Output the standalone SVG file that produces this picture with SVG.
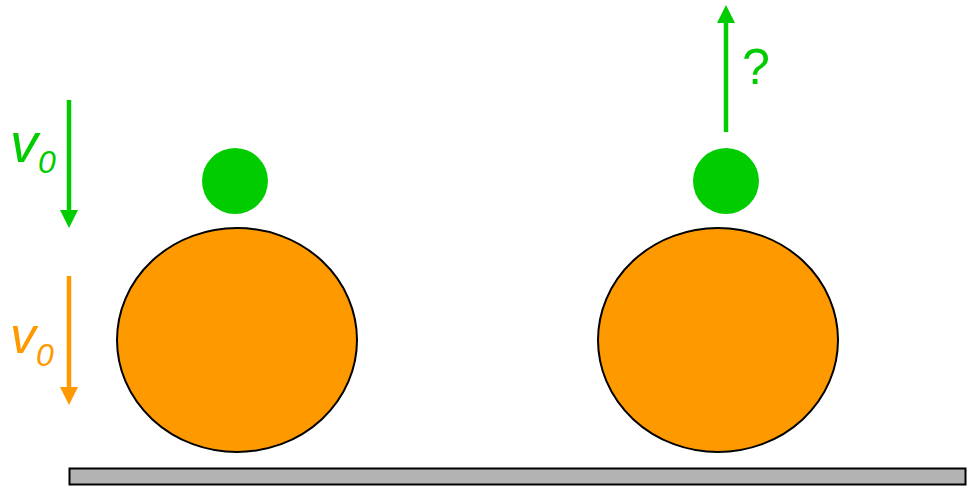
<svg xmlns="http://www.w3.org/2000/svg" width="973" height="486" viewBox="0 0 973 486">
<style>
.ball{fill:#FF9900;stroke:#000;stroke-width:2}
.small{fill:#00CC00}
.g{stroke:#00CC00;stroke-width:4.5;fill:none}
.o{stroke:#FF9900;stroke-width:4.5;fill:none}
.hg{fill:#00CC00}
.ho{fill:#FF9900}
.lbl{font-family:"Liberation Sans",Arial,sans-serif}
</style>
<rect id="ground" x="69.5" y="468.5" width="896" height="16" fill="#B3B3B3" stroke="#000" stroke-width="2"/>
<g id="left-big"><ellipse class="ball" cx="237" cy="340" rx="120" ry="112"/></g>
<g id="left-small"><circle class="small" cx="235" cy="181" r="33"/></g>
<g id="right-big"><ellipse class="ball" cx="718" cy="340" rx="120" ry="112"/></g>
<g id="right-small"><circle class="small" cx="726" cy="181" r="33"/></g>
<g id="connectors">
<line class="g" x1="69" y1="100" x2="69" y2="212"/>
<path class="hg" d="M60,210 L78,210 L69,228 Z"/>
<line class="o" x1="69" y1="276" x2="69" y2="389"/>
<path class="ho" d="M60,387 L78,387 L69,405 Z"/>
<line class="g" x1="726" y1="132" x2="726" y2="21"/>
<path class="hg" d="M717,23 L735,23 L726,5 Z"/>
</g>
<g id="labels" class="lbl">
<text x="10" y="162" font-size="56" font-style="italic" fill="#00CC00">v<tspan font-size="32" dy="11">0</tspan></text>
<text x="10" y="353" font-size="52" font-style="italic" fill="#FF9900">v<tspan font-size="32" dy="13">0</tspan></text>
<text x="742" y="84" font-size="50" fill="#00CC00">?</text>
</g>
</svg>
